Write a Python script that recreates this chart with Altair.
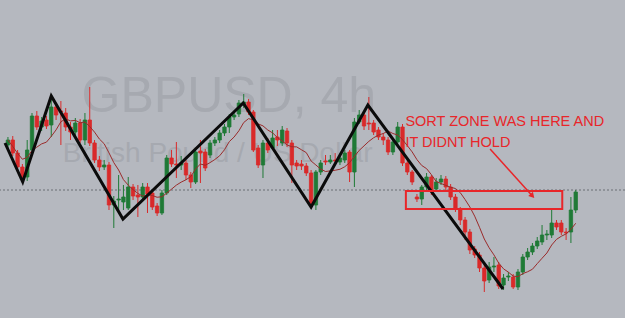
import altair as alt
import pandas as pd

OPEN = [1.2945, 1.2950, 1.2937, 1.2923, 1.2913, 1.2940, 1.2974, 1.2963, 1.2970, 1.2965,
        1.2983, 1.2979, 1.2977, 1.2963, 1.2958, 1.2967, 1.2950, 1.2970, 1.2947, 1.2930,
        1.2923, 1.2925, 1.2885, 1.2890, 1.2888, 1.2882, 1.2903, 1.2895, 1.2893, 1.2903,
        1.2897, 1.2884, 1.2877, 1.2897, 1.2932, 1.2926, 1.2925, 1.2927, 1.2915, 1.2908,
        1.2939, 1.2938, 1.2935, 1.2947, 1.2950, 1.2957, 1.2963, 1.2973, 1.2976, 1.2985,
        1.2988, 1.2978, 1.2942, 1.2925, 1.2947, 1.2942, 1.2953, 1.2947, 1.2959, 1.2947,
        1.2927, 1.2926, 1.2924, 1.2917, 1.2885, 1.2918, 1.2929, 1.2928, 1.2930, 1.2928,
        1.2930, 1.2938, 1.2918, 1.2968, 1.2975, 1.2967, 1.2967, 1.2960, 1.2953, 1.2950,
        1.2938, 1.2948, 1.2963, 1.2927, 1.2918, 1.2893, 1.2891, 1.2903, 1.2913, 1.2901,
        1.2908, 1.2911, 1.2903, 1.2893, 1.2880, 1.2870, 1.2858, 1.2841, 1.2835, 1.2822,
        1.2810, 1.2823, 1.2825, 1.2805, 1.2813, 1.2813, 1.2803, 1.2818, 1.2833, 1.2838,
        1.2844, 1.2848, 1.2855, 1.2855, 1.2867, 1.2867, 1.2858, 1.2858, 1.2880]
CLOSE = [1.2950, 1.2937, 1.2923, 1.2913, 1.2940, 1.2974, 1.2963, 1.2969, 1.2964, 1.2983,
         1.2975, 1.2978, 1.2963, 1.2958, 1.2967, 1.2950, 1.2970, 1.2947, 1.2930, 1.2923,
         1.2925, 1.2885, 1.2889, 1.2891, 1.2893, 1.2903, 1.2894, 1.2893, 1.2903, 1.2896,
         1.2883, 1.2877, 1.2897, 1.2932, 1.2926, 1.2925, 1.2927, 1.2915, 1.2908, 1.2938,
         1.2937, 1.2922, 1.2947, 1.2950, 1.2957, 1.2963, 1.2973, 1.2975, 1.2987, 1.2988,
         1.2978, 1.2940, 1.2925, 1.2947, 1.2940, 1.2952, 1.2950, 1.2960, 1.2947, 1.2925,
         1.2924, 1.2924, 1.2917, 1.2885, 1.2918, 1.2927, 1.2928, 1.2930, 1.2929, 1.2932,
         1.2937, 1.2918, 1.2968, 1.2975, 1.2964, 1.2966, 1.2958, 1.2953, 1.2950, 1.2938,
         1.2948, 1.2963, 1.2927, 1.2918, 1.2908, 1.2891, 1.2903, 1.2913, 1.2900, 1.2908,
         1.2911, 1.2903, 1.2893, 1.2881, 1.2870, 1.2858, 1.2840, 1.2835, 1.2822, 1.2809,
         1.2823, 1.2824, 1.2804, 1.2812, 1.2814, 1.2803, 1.2818, 1.2833, 1.2838, 1.2844,
         1.2849, 1.2855, 1.2856, 1.2867, 1.2863, 1.2858, 1.2857, 1.2880, 1.2898]
HIGH = [1.2953, 1.2954, 1.2940, 1.2926, 1.2950, 1.2977, 1.2979, 1.2973, 1.2974, 1.2994,
        1.2987, 1.2989, 1.2982, 1.2968, 1.2972, 1.2971, 1.2977, 1.3003, 1.2950, 1.2934,
        1.2930, 1.2928, 1.2894, 1.2915, 1.2905, 1.2913, 1.2906, 1.2905, 1.2907, 1.2907,
        1.2900, 1.2887, 1.2900, 1.2935, 1.2940, 1.2948, 1.2934, 1.2930, 1.2918, 1.2940,
        1.2950, 1.2941, 1.2950, 1.2953, 1.2960, 1.2966, 1.2976, 1.2978, 1.2990, 1.2996,
        1.2991, 1.2980, 1.2945, 1.2950, 1.2952, 1.2960, 1.2960, 1.2964, 1.2962, 1.2950,
        1.2930, 1.2930, 1.2927, 1.2920, 1.2920, 1.2930, 1.2935, 1.2935, 1.2937, 1.2935,
        1.2940, 1.2940, 1.2972, 1.2980, 1.2978, 1.2993, 1.2970, 1.2963, 1.2957, 1.2953,
        1.2952, 1.2968, 1.2966, 1.2930, 1.2920, 1.2896, 1.2905, 1.2917, 1.2915, 1.2912,
        1.2915, 1.2914, 1.2906, 1.2896, 1.2883, 1.2873, 1.2861, 1.2844, 1.2838, 1.2825,
        1.2828, 1.2833, 1.2828, 1.2816, 1.2818, 1.2816, 1.2821, 1.2836, 1.2842, 1.2847,
        1.2853, 1.2865, 1.2860, 1.2880, 1.2870, 1.2870, 1.2862, 1.2893, 1.2900]
LOW = [1.2940, 1.2934, 1.2920, 1.2909, 1.2909, 1.2937, 1.2960, 1.2959, 1.2961, 1.2953,
       1.2970, 1.2945, 1.2959, 1.2950, 1.2953, 1.2947, 1.2945, 1.2944, 1.2927, 1.2919,
       1.2920, 1.2880, 1.2862, 1.2880, 1.2880, 1.2880, 1.2890, 1.2873, 1.2890, 1.2877,
       1.2880, 1.2874, 1.2875, 1.2895, 1.2923, 1.2912, 1.2920, 1.2910, 1.2902, 1.2906,
       1.2907, 1.2919, 1.2932, 1.2944, 1.2947, 1.2954, 1.2957, 1.2970, 1.2973, 1.2982,
       1.2975, 1.2938, 1.2922, 1.2912, 1.2937, 1.2940, 1.2944, 1.2944, 1.2943, 1.2907,
       1.2920, 1.2920, 1.2914, 1.2882, 1.2880, 1.2915, 1.2925, 1.2926, 1.2925, 1.2925,
       1.2927, 1.2908, 1.2903, 1.2966, 1.2960, 1.2960, 1.2955, 1.2950, 1.2945, 1.2935,
       1.2935, 1.2945, 1.2924, 1.2915, 1.2905, 1.2888, 1.2885, 1.2900, 1.2895, 1.2898,
       1.2905, 1.2900, 1.2890, 1.2878, 1.2865, 1.2850, 1.2836, 1.2832, 1.2818, 1.2798,
       1.2807, 1.2818, 1.2801, 1.2800, 1.2809, 1.2801, 1.2800, 1.2815, 1.2830, 1.2835,
       1.2841, 1.2845, 1.2850, 1.2852, 1.2860, 1.2855, 1.2850, 1.2847, 1.2877]

# hand-drawn zigzag (bar index, price)
ZIG_X = [-0.61, 3.07, 9.0, 23.9, 48.9, 63.0, 74.8, 102.9]
ZIG_Y = [1.2947, 1.2908, 1.2994, 1.2871, 1.2987, 1.2883, 1.2985, 1.2801]

LEVEL = 1.2900
ZONE = {"x0": 82.7, "x1": 115.2, "y0": 1.2881, "y1": 1.2899}
ARROW_X = [100.2, 109.0]
ARROW_Y = [1.2941, 1.2894]
NOTE_LINES = ["SORT ZONE WAS HERE AND", "IT DIDNT HOLD"]
NOTE_Y = [1.2964, 1.2943]

BG = "#b5b8bf"
GREEN = "#1f7a36"
RED = "#d92a2a"
ANN = "#e8262a"
WM = "#a6a9b0"

df = pd.DataFrame({"i": list(range(len(OPEN))), "open": OPEN, "close": CLOSE,
                   "high": HIGH, "low": LOW})
zig = pd.DataFrame({"i": ZIG_X, "p": ZIG_Y})

xs = alt.Scale(domain=[-0.613, 127.2], nice=False, zero=False)
ys = alt.Scale(domain=[1.2772, 1.3090], nice=False, zero=False)

def X(f):
    return alt.X(f, type="quantitative", scale=xs, axis=None)

def Y(f):
    return alt.Y(f, type="quantitative", scale=ys, axis=None)

col = alt.when(alt.datum.close < alt.datum.open).then(alt.value(RED)).otherwise(alt.value(GREEN))

wm1 = alt.Chart(pd.DataFrame({"i": [15.3], "p": [1.2978], "t": ["GBPUSD, 4h"]})).mark_text(
    align="left", baseline="alphabetic", fontSize=50, color=WM,
    font="Liberation Sans").encode(x=X("i"), y=Y("p"), text="t:N")
wm2 = alt.Chart(pd.DataFrame({"i": [11.4], "p": [1.2928], "t": ["British Pound / US Dollar"]})).mark_text(
    align="left", baseline="alphabetic", fontSize=28, color=WM,
    font="Liberation Sans").encode(x=X("i"), y=Y("p"), text="t:N")

level = alt.Chart(pd.DataFrame({"p": [LEVEL]})).mark_rule(
    color="#6b6e75", strokeDash=[2, 2], strokeWidth=1).encode(y=Y("p"))

base = alt.Chart(df)
wicks = base.mark_rule(strokeWidth=1).encode(x=X("i"), y=Y("low"), y2="high", color=col)
bodies = base.mark_bar(size=3.4, strokeWidth=0.8).encode(
    x=X("i"), y=Y("open"), y2="close", color=col, stroke=col)

ma = base.transform_window(
    ma="mean(close)", frame=[-7, 0], sort=[alt.SortField("i")]
).mark_line(color="#9a2b2b", strokeWidth=1).encode(x=X("i"), y=Y("ma:Q"))

zz = alt.Chart(zig).mark_line(color="#0b0b0b", strokeWidth=3).encode(x=X("i"), y=Y("p"))

zone = alt.Chart(pd.DataFrame([ZONE])).mark_rect(
    fill=None, fillOpacity=0, stroke=ANN, strokeWidth=2).encode(
    x=X("x0"), x2="x1", y=Y("y0"), y2="y1")

arrow = alt.Chart(pd.DataFrame({"i": ARROW_X, "p": ARROW_Y})).mark_line(
    color=ANN, strokeWidth=1.5).encode(x=X("i"), y=Y("p"))
head = alt.Chart(pd.DataFrame({"i": [ARROW_X[1]], "p": [ARROW_Y[1]]})).mark_point(
    shape="triangle-up", filled=True, size=40, angle=137.5, color=ANN, opacity=1).encode(
    x=X("i"), y=Y("p"))

note = alt.Chart(pd.DataFrame({"i": [82.6, 82.6], "p": NOTE_Y, "t": NOTE_LINES})).mark_text(
    align="left", baseline="alphabetic", fontSize=14.5, color=ANN,
    font="Liberation Sans").encode(x=X("i"), y=Y("p"), text="t:N")

chart = alt.layer(wm1, wm2, level, wicks, bodies, ma, zz, zone, arrow, head, note).properties(
    width=625, height=318, background=BG, padding=0, autosize=alt.AutoSizeParams(type="none")
).configure_view(strokeWidth=0)

chart.save("out.html", embed_options={"renderer": "svg", "actions": False})
